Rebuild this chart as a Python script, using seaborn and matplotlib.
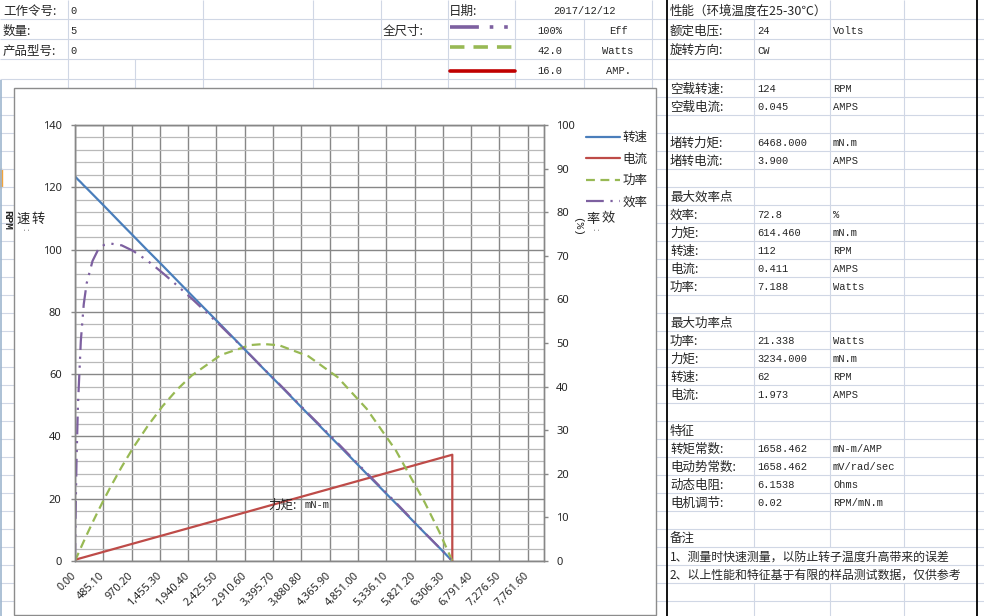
import matplotlib
matplotlib.use('Agg')
import pandas as pd
import matplotlib.pyplot as plt
import seaborn as sns
from matplotlib.patches import Rectangle
from matplotlib.ticker import MultipleLocator

W, H = 984, 616

# ---- curve data (torque in mN.m) ----
torque = [0, 10, 25, 50, 100, 150, 200, 300, 400, 500, 614, 800, 1000, 1250, 1500,
          1750, 2000, 2500, 3000, 3234, 3500, 4000, 4500, 5000, 5500, 6000, 6250, 6468]
speed = [123.5, 123.3, 123.0, 122.5, 121.6, 120.6, 119.7, 117.8, 115.9, 114.0, 111.8,
         108.2, 104.4, 99.6, 94.9, 90.1, 85.3, 75.8, 66.2, 61.7, 56.7, 47.1, 37.6,
         28.0, 18.5, 8.9, 4.2, 0.0]
current = [0.045, 0.051, 0.060, 0.075, 0.105, 0.134, 0.164, 0.224, 0.283, 0.343, 0.411,
           0.522, 0.641, 0.790, 0.939, 1.088, 1.237, 1.535, 1.833, 1.973, 2.131, 2.429,
           2.727, 3.025, 3.323, 3.621, 3.770, 3.900]
power = [0.0, 0.129, 0.322, 0.641, 1.273, 1.894, 2.507, 3.701, 4.855, 5.969, 7.188,
         9.065, 10.933, 13.037, 14.907, 16.511, 17.865, 19.845, 20.798, 20.900, 20.781,
         19.729, 17.718, 14.661, 10.655, 5.592, 2.749, 0.0]
efficiency = [0.0, 10.5, 22.4, 35.6, 50.5, 58.9, 63.7, 68.8, 71.5, 72.5, 72.8, 72.4,
              71.1, 68.8, 66.1, 63.2, 60.2, 53.9, 47.3, 44.1, 40.6, 33.8, 27.1, 20.2,
              13.4, 6.4, 3.0, 0.0]
# current drops back to zero at stall
current_end = (6468, 0.0)

# full-scale values shown in the header
fs_eff, fs_watts, fs_amp = 100.0, 42.0, 16.0

x_ticks = [0.0, 485.1, 970.2, 1455.3, 1940.4, 2425.5, 2910.6, 3395.7, 3880.8, 4365.9,
           4851.0, 5336.1, 5821.2, 6306.3, 6791.4, 7276.5, 7761.6]
x_labels = ['0.00', '485.10', '970.20', '1,455.30', '1,940.40', '2,425.50', '2,910.60',
            '3,395.70', '3,880.80', '4,365.90', '4,851.00', '5,336.10', '5,821.20',
            '6,306.30', '6,791.40', '7,276.50', '7,761.60']
left_ticks = [0, 20, 40, 60, 80, 100, 120, 140]
right_ticks = [0, 10, 20, 30, 40, 50, 60, 70, 80, 90, 100]

legend_labels = ['转速', '电流', '功率', '效率']

# ---- sheet text ----
header_cells = [
    (1, '工作令号:', '0'),
    (2, '数量:', '5'),
    (3, '产品型号:', '0'),
]
scale_rows = [(2, '100%', 'Eff'), (3, '42.0', 'Watts'), (4, '16.0', 'AMP.')]
spec_rows = [
    (1, '性能（环境温度在25-30℃）', '', ''),
    (2, '额定电压:', '24', 'Volts'),
    (3, '旋转方向:', 'CW', ''),
    (5, '空载转速:', '124', 'RPM'),
    (6, '空载电流:', '0.045', 'AMPS'),
    (8, '堵转力矩:', '6468.000', 'mN.m'),
    (9, '堵转电流:', '3.900', 'AMPS'),
    (11, '最大效率点', '', ''),
    (12, '效率:', '72.8', '%'),
    (13, '力矩:', '614.460', 'mN.m'),
    (14, '转速:', '112', 'RPM'),
    (15, '电流:', '0.411', 'AMPS'),
    (16, '功率:', '7.188', 'Watts'),
    (18, '最大功率点', '', ''),
    (19, '功率:', '21.338', 'Watts'),
    (20, '力矩:', '3234.000', 'mN.m'),
    (21, '转速:', '62', 'RPM'),
    (22, '电流:', '1.973', 'AMPS'),
    (24, '特征', '', ''),
    (25, '转矩常数:', '1658.462', 'mN-m/AMP'),
    (26, '电动势常数:', '1658.462', 'mV/rad/sec'),
    (27, '动态电阻:', '6.1538', 'Ohms'),
    (28, '电机调节:', '0.02', 'RPM/mN.m'),
    (30, '备注', '', ''),
    (31, '1、测量时快速测量，以防止转子温度升高带来的误差', '', ''),
    (32, '2、以上性能和特征基于有限的样品测试数据，仅供参考', '', ''),
]

BLUE, RED, GREEN, PURPLE = '#4A7EBB', '#BE4B48', '#98B954', '#7D60A0'
EFF_DASH = (0, (8, 3, 1, 3, 1, 3))
PWR_DASH = (0, (4, 2.5))
CJK = ['Noto Sans CJK SC', 'DejaVu Sans']
MONO = ['Liberation Mono', 'DejaVu Sans Mono']

sns.set_style('white')
plt.rcParams['font.family'] = ['Noto Sans', 'Noto Sans CJK SC', 'DejaVu Sans']

fig = plt.figure(figsize=(W / 100, H / 100), dpi=100)

# ---- spreadsheet background in pixel coordinates ----
bg = fig.add_axes([0, 0, 1, 1], zorder=-1)
bg.set_xlim(0, W)
bg.set_ylim(H, 0)
bg.axis('off')

row_edges = [0, 19.3, 39.3, 59.3, 79.3] + [79.3 + 18 * k for k in range(1, 31)]
n_rows = len(row_edges) - 1
grid_c = '#D0D7E5'

for y in row_edges[1:]:
    bg.hlines(y, 0, W, color=grid_c, lw=0.8)


def draw_col(x, hidden):
    for r in range(1, n_rows + 1):
        if r in hidden:
            continue
        bg.vlines(x, row_edges[r - 1], row_edges[r], color=grid_c, lw=0.8)


for x in [67.5, 202.5, 313, 380.6, 448, 515, 652]:
    draw_col(x, [])
draw_col(135, [1, 2, 3])
draw_col(584, [1])
draw_col(754, [1, 31, 32])
draw_col(830, [31, 32])
draw_col(904, [31, 32])
bg.vlines(1, 80, H, color='#9EB6CE', lw=1.2)
bg.add_patch(Rectangle((0, row_edges[9]), 2, 18, color='#F2A33A'))
for x in [667, 977]:
    bg.vlines(x, 0, H, color='black', lw=1.3)


def ycell(r):
    return row_edges[r] - 8.3


for r, label, val in header_cells:
    bg.text(3, ycell(r), label, fontsize=9, family=CJK, va='center')
    bg.text(70, ycell(r), val, fontsize=7.5, family=MONO, va='center')
bg.text(449, ycell(1), '日期:', fontsize=9, family=CJK, va='center')
bg.text(584, ycell(1), '2017/12/12', fontsize=7.5, family=MONO, va='center', ha='center')
bg.text(383, ycell(2), '全尺寸:', fontsize=9, family=CJK, va='center', weight='medium')
for r, val, unit in scale_rows:
    bg.text(549.5, ycell(r), val, fontsize=7.5, family=MONO, va='center', ha='center')
    bg.text(618, ycell(r), unit, fontsize=7.5, family=MONO, va='center', ha='center')
bg.plot([450, 515], [27, 27], color=PURPLE, lw=2.6, linestyle=EFF_DASH)
bg.plot([450, 515], [47, 47], color=GREEN, lw=2.6, linestyle=PWR_DASH)
bg.plot([450, 515], [71, 71], color='#C00000', lw=2.6)

for r, label, val, unit in spec_rows:
    size = 8.6 if len(label) > 15 else 9
    bg.text(670, ycell(r), label, fontsize=size, family=CJK, va='center')
    if val:
        bg.text(757, ycell(r), val, fontsize=7.5, family=MONO, va='center')
    if unit:
        bg.text(833, ycell(r), unit, fontsize=7.5, family=MONO, va='center')

# chart frame
bg.add_patch(Rectangle((13.5, 88), 642, 526.5, fc='white', ec='#8C8C8C', lw=1, zorder=5))

# ---- the chart ----
ax = fig.add_axes([75 / W, (H - 561) / H, 469 / W, 436 / H])
ax2 = ax.twinx()

df = pd.DataFrame({'torque': torque, 'speed': speed, 'current': current,
                   'power': power, 'efficiency': efficiency})
df['current_pct'] = df['current'] / fs_amp * 100
df['power_pct'] = df['power'] / fs_watts * 100
df['eff_pct'] = df['efficiency'] / fs_eff * 100
cur = pd.concat([df[['torque', 'current_pct']],
                 pd.DataFrame({'torque': [current_end[0]],
                               'current_pct': [current_end[1] / fs_amp * 100]})],
                ignore_index=True)

sns.lineplot(data=df, x='torque', y='speed', ax=ax, color=BLUE, lw=1.6,
             estimator=None, sort=False, label='转速')
sns.lineplot(data=cur, x='torque', y='current_pct', ax=ax2, color=RED, lw=1.6,
             estimator=None, sort=False, label='电流')
sns.lineplot(data=df, x='torque', y='power_pct', ax=ax2, color=GREEN, lw=1.6,
             linestyle=PWR_DASH, estimator=None, sort=False, label='功率')
sns.lineplot(data=df, x='torque', y='eff_pct', ax=ax2, color=PURPLE, lw=1.6,
             linestyle=EFF_DASH, estimator=None, sort=False, label='效率')

handles = ax.get_lines()[:1] + ax2.get_lines()[:3]
for a in (ax, ax2):
    if a.get_legend():
        a.get_legend().remove()

ax.set_xlim(0, 8040)
ax.set_ylim(0, 140)
ax2.set_ylim(0, 100)
ax.set_xticks(x_ticks)
ax.set_xticklabels(x_labels)
ax.set_yticks(left_ticks)
ax2.set_yticks(right_ticks)
ax.yaxis.set_minor_locator(MultipleLocator(4))
ax.grid(axis='x', which='major', color='#878787', lw=1)
ax.grid(axis='y', which='major', color='#878787', lw=1)
ax.grid(axis='y', which='minor', color='#B9B9B9', lw=0.9)
ax.set_axisbelow(True)
ax.set_xlabel('')
ax.set_ylabel('')
ax2.set_ylabel('')
for a in (ax, ax2):
    for s in a.spines.values():
        s.set_color('#878787')
        s.set_linewidth(1)
ax.tick_params(axis='y', which='major', length=3.2, width=1, color='#878787',
               labelsize=8, pad=6.5)
ax.tick_params(axis='y', which='minor', length=0)
ax.tick_params(axis='x', length=3, width=1, color='#878787', labelsize=7.8, pad=6.5)
ax2.tick_params(axis='y', length=3.2, width=1, color='#878787', labelsize=8, pad=5.5)
plt.setp(ax.get_xticklabels(), rotation=45, ha='right', va='center',
         rotation_mode='anchor')

# axis titles, laid out like the sheet does it
T = bg.transData
fig.text(38.5, 219, '转', fontsize=9.5, family=CJK, ha='center', va='center', transform=T)
fig.text(23.5, 219, '速', fontsize=9.5, family=CJK, ha='center', va='center', transform=T)
fig.text(25, 229, ':', fontsize=6, family=CJK, ha='center', va='center',
         rotation=-90, transform=T)
fig.text(7, 220, 'RPM', fontsize=8, family=MONO, weight='bold', ha='center',
         va='center', rotation=-90, transform=T)
fig.text(608.5, 219, '效', fontsize=9.5, family=CJK, ha='center', va='center', transform=T)
fig.text(593, 219, '率', fontsize=9.5, family=CJK, ha='center', va='center', transform=T)
fig.text(595, 229, ':', fontsize=6, family=CJK, ha='center', va='center',
         rotation=-90, transform=T)
fig.text(577, 227, '(%)', fontsize=8, family=MONO, ha='center', va='center',
         rotation=-90, transform=T)
fig.text(268, 505, '力矩:', fontsize=9, family=CJK, ha='left', va='center', transform=T)
fig.text(305, 505, 'mN-m', fontsize=7.5, family=MONO, ha='left', va='center', transform=T)

fig.legend(handles, legend_labels, loc='upper left', bbox_to_anchor=(586, 131),
           bbox_transform=T, frameon=False, prop={'family': CJK, 'size': 9},
           handlelength=2.7, handletextpad=0.2, labelspacing=0.68,
           borderpad=0, borderaxespad=0)

fig.savefig('out.png', dpi=100)
